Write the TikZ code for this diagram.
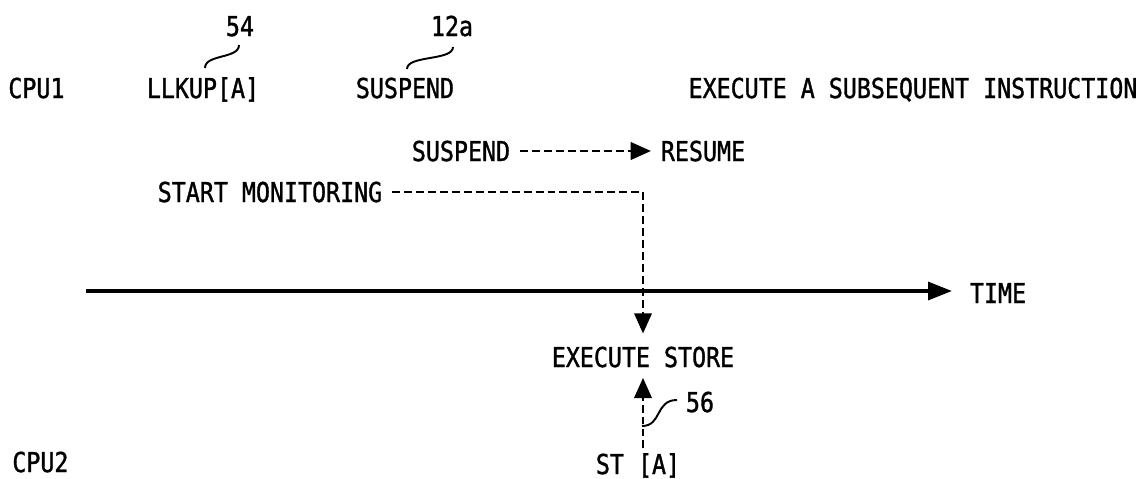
\documentclass[tikz,border=0pt]{standalone}
\usepackage{fontspec}
\newfontfamily\figfont[FakeStretch=0.85,FakeBold=1.2]{DejaVu Sans Mono}
\usetikzlibrary{arrows.meta}
\definecolor{figink}{gray}{0}

\begin{document}
\begin{tikzpicture}[
  x=.02cm,y=-.02cm,
  lbl/.style={inner xsep=5.5pt,inner ysep=3pt,text height=11.4pt,text depth=0pt,
    text=figink,font=\figfont\fontsize{15.6}{18}\selectfont},
  leader/.style={draw=figink,line width=1.1pt},
  dashline/.style={draw=figink,line width=1.2pt,dash pattern=on 4.5pt off 2.3pt,
    -{Triangle[length=11.5pt,width=10pt]}},
  axis/.style={draw=figink,line width=2.3pt,-{Triangle[length=13.6pt,width=10pt]}},
]
  \useasboundingbox (0,0) rectangle (1148,479);

  % processor rows
  \node[lbl,anchor=west,inner xsep=0pt] (cpu1) at (8,88) {CPU1};
  \node[lbl] (llkup) at (203,88) {LLKUP[A]};
  \node[lbl] (susp1) at (405,88) {SUSPEND};
  \node[lbl] (nextins) at (913,88) {EXECUTE A SUBSEQUENT INSTRUCTION};
  \node[lbl,anchor=west,inner xsep=0pt] (cpu2) at (12,462) {CPU2};

  % reference numerals
  \node[lbl] (r54) at (240,26) {54};
  \node[lbl] (r12a) at (452,26) {12a};
  \node[lbl] (r56) at (700,402) {56};

  \node[lbl] (susp2) at (461,151) {SUSPEND};
  \node[lbl] (resume) at (703,151) {RESUME};
  \node[lbl] (monitor) at (270,192) {START MONITORING};
  \node[lbl] (time) at (998,293) {TIME};
  \node[lbl] (store) at (643,357) {EXECUTE STORE};
  \node[lbl] (sta) at (638,464) {ST [A]};
  \coordinate (t0) at (86,291);

  % time axis
  \draw[axis,shorten >=4.5pt] (t0) -- (time.west |- t0);

  \draw[dashline] (susp2.east) -- (resume.west);
  \draw[dashline,shorten >=4.5pt] (monitor.east) -| (store.north);
  \draw[dashline,shorten >=3pt] (sta.north -| store.south) -- (store.south);

  % leaders
  \draw[leader] ([shift={(2,-20)}]llkup.center) .. controls +(0,-14) and +(0,14)
    .. ([shift={(-1,19)}]r54.center);
  \draw[leader] ([shift={(2,-19)}]susp1.center) .. controls +(0,-14) and +(0,14)
    .. ([shift={(1,21)}]r12a.center);
  \draw[leader] ([shift={(4,-38)}]sta.center) .. controls +(20,0) and +(-22,0)
    .. ([shift={(-23,-2)}]r56.center);
\end{tikzpicture}
\end{document}
